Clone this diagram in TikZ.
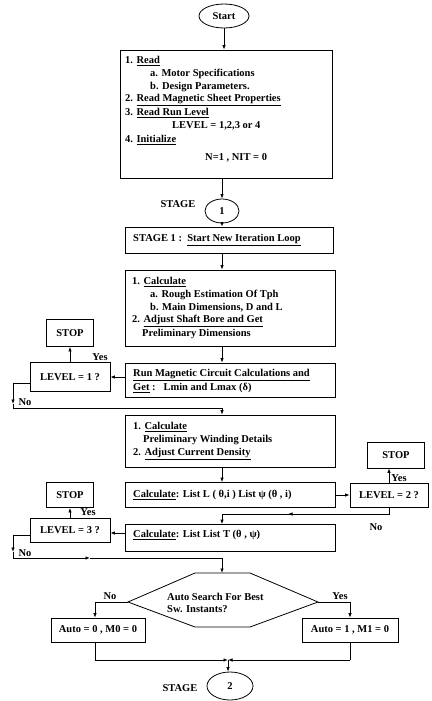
\documentclass[tikz,border=0pt]{standalone}
\usepackage{fontspec}
\setmainfont{Liberation Serif}
\usetikzlibrary{arrows.meta,shapes.geometric}
\begin{document}
\begin{tikzpicture}[x=1pt,y=-1pt,
  ln/.style={line width=0.8pt},
  arr/.style={ln,-{Latex[length=4.5pt,width=3.5pt]}},
  box/.style={draw,ln,inner sep=0pt},
  oval/.style={draw,ln,ellipse,inner sep=0pt},
  ft/.style={font=\fontsize{10.5}{12}\selectfont\bfseries},
  txt/.style={ft,anchor=west,inner sep=0pt},
  lbl/.style={ft,inner sep=0pt}]
\useasboundingbox (0,0) rectangle (431,701);

% start
\node[oval,minimum width=50,minimum height=24,ft] (start) at (224,16) {Start};

% box 1
\node[box,minimum width=212,minimum height=128] (b1) at (226,114) {};
\node[txt] (t1a) at (125,61) {1. \underline{Read}};
\node[txt] (t1b) at (150,74) {a. Motor Specifications};
\node[txt] (t1c) at (150,87) {b. Design Parameters.};
\node[txt] (t1d) at (125,100) {2. \underline{Read Magnetic Sheet Properties}};
\node[txt] (t1e) at (125,113) {3. \underline{Read Run Level}};
\node[txt] (t1f) at (172,126) {LEVEL = 1,2,3 or 4};
\node[txt] (t1g) at (125,140) {4. \underline{Initialize}};
\node[txt] (t1h) at (205,158) {N=1 , NIT = 0};

% stage 1 connector
\node[oval,minimum width=34,minimum height=24,ft] (s1) at (222,211) {1};
\node[lbl] (s1l) at (178,204) {STAGE};

% stage 1 box
\node[box,minimum width=208,minimum height=26] (b2) at (229,240) {};
\node[txt] (t2) at (133,240) {STAGE 1 :\ \ \underline{Start New Iteration Loop}};

% box 3
\node[box,minimum width=210,minimum height=76] (b3) at (230,308) {};
\node[txt] (t3a) at (132,282) {1. \underline{Calculate}};
\node[txt] (t3b) at (150,295) {a. Rough Estimation Of Tph};
\node[txt] (t3c) at (150,308) {b. Main Dimensions, D and L};
\node[txt] (t3d) at (132,321) {2. \underline{Adjust Shaft Bore and Get}};
\node[txt] (t3e) at (142,334) {Preliminary Dimensions};

% box 4
\node[box,minimum width=210,minimum height=34] (b4) at (230,380) {};
\node[txt] (t4a) at (133,375) {\underline{Run Magnetic Circuit Calculations and}};
\node[txt] (t4b) at (133,388) {\underline{Get} :\ \ \ Lmin and Lmax (δ)};

% level 1 / stop 1
\node[box,minimum width=80,minimum height=29,ft] (lv1) at (70,377) {LEVEL = 1 ?};
\node[box,minimum width=47,minimum height=27,ft] (st1) at (70,333) {STOP};

% box 5
\node[box,minimum width=210,minimum height=52] (b5) at (230,441) {};
\node[txt] (t5a) at (133,427) {1. \underline{Calculate}};
\node[txt] (t5b) at (143,440) {Preliminary Winding Details};
\node[txt] (t5c) at (133,454) {2. \underline{Adjust Current Density}};

% box 6
\node[box,minimum width=210,minimum height=25] (b6) at (230,495) {};
\node[txt] (t6) at (133,495) {\underline{Calculate}: List L ( θ,i ) List ψ (θ , i)};

% level 2 / stop 2
\node[box,minimum width=78,minimum height=24,ft] (lv2) at (389,495) {LEVEL = 2 ?};
\node[box,minimum width=57,minimum height=26,ft] (st2) at (396,455) {STOP};

% box 7
\node[box,minimum width=210,minimum height=27] (b7) at (230,538) {};
\node[txt] (t7) at (133,535) {\underline{Calculate}: List List T (θ , ψ)};

% level 3 / stop 3
\node[box,minimum width=80,minimum height=24,ft] (lv3) at (70,530) {LEVEL = 3 ?};
\node[box,minimum width=47,minimum height=25,ft] (st3) at (70,495) {STOP};

% hexagon decision
\coordinate (h1) at (195,573);
\coordinate (h2) at (250,573);
\coordinate (h3) at (318,602);
\coordinate (h4) at (250,627);
\coordinate (h5) at (195,627);
\coordinate (h6) at (128,602);
\draw[ln] (h1) -- (h2) -- (h3) -- (h4) -- (h5) -- (h6) -- cycle;
\node[txt] (th1) at (167,597) {Auto Search For Best};
\node[txt] (th2) at (167,609) {Sw. Instants?};

% auto boxes
\node[box,minimum width=94,minimum height=24,ft] (a0) at (98,630) {Auto = 0 , M0 = 0};
\node[box,minimum width=96,minimum height=24,ft] (a1) at (350,630) {Auto = 1 , M1 = 0};

% stage 2
\node[oval,minimum width=46,minimum height=28,ft] (s2) at (230,686) {2};
\node[lbl] (s2l) at (180,688) {STAGE};

% main column connectors
\draw[arr] (start) -- (start |- b1.north);
\draw[arr] (b1.south -| s1) -- (s1);
\draw[arr] (s1) -- (s1 |- b2.north);
\draw[arr] (b2.south -| 222,0) -- (b3.north -| 222,0);
\draw[arr] (b3.south -| 222,0) -- (b4.north -| 222,0);

% level 1 loop
\draw[arr] (b4.west |- lv1) -- (lv1.east);
\draw[arr] (lv1.north) -- (st1.south);
\node[lbl] (y1) at (100,357) {Yes};
\coordinate (n1a) at (13,383);
\coordinate (n1b) at (13,404);
\coordinate (n1c) at (13,408);
\coordinate (n1d) at (222,408);
\draw[arr] (lv1.west |- n1a) -- (n1a) -- (n1b);
\draw[ln] (n1b) -- (n1c) -- (n1d);
\draw[arr] (n1d) -- (b5.north -| n1d);
\node[lbl] (no1) at (25,402) {No};

% box5 -> box6
\draw[arr] (b5.south -| 222,0) -- (b6.north -| 222,0);

% level 2 loop
\draw[arr] (b6.east) -- (lv2.west);
\draw[arr] (lv2.north -| 389,0) -- (st2.south -| 389,0);
\node[lbl] (y2) at (399,478) {Yes};
\coordinate (n2a) at (389,514);
\coordinate (n2m) at (288,514);
\coordinate (n2b) at (222,514);
\draw[ln] (lv2.south) -- (n2a) -- (n2m);
\draw[arr] (n2a) -- (n2m);
\draw[ln] (n2m) -- (n2b);
\draw[arr] (n2b) -- (b7.north -| n2b);
\node[lbl] (no2) at (376,527) {No};

% level 3 loop
\draw[arr] (b7.west |- 0,533) -- (lv3.east |- 0,533);
\draw[arr] (lv3.north) -- (st3.south);
\node[lbl] (y3) at (88,512) {Yes};
\coordinate (n3a) at (13,535);
\coordinate (n3b) at (13,552);
\coordinate (n3c) at (13,558);
\coordinate (n3m) at (90,558);
\coordinate (n3d) at (222,558);
\draw[arr] (lv3.west |- n3a) -- (n3a) -- (n3b);
\draw[ln] (n3b) -- (n3c);
\draw[arr] (n3c) -- (n3m);
\draw[ln] (n3m) -- (n3d);
\draw[arr] (n3d) -- (h1 -| n3d);
\node[lbl] (no3) at (25,553) {No};

% decision branches
\coordinate (dl) at (95,602);
\coordinate (dr) at (350,602);
\draw[ln] (h6) -- (dl);
\draw[arr] (dl) -- (a0.north -| dl);
\draw[ln] (h3) -- (dr);
\draw[arr] (dr) -- (a1.north);
\node[lbl] (no4) at (110,596) {No};
\node[lbl] (y4) at (340,596) {Yes};

% merge
\coordinate (ml) at (95,660);
\coordinate (mr) at (350,660);
\coordinate (mj) at (228,660);
\draw[ln] (a0.south -| ml) -- (ml);
\draw[arr] (ml) -- (mj);
\draw[ln] (a1.south) -- (mr);
\draw[arr] (mr) -- (mj);
\draw[arr] (mj) -- (mj |- s2.north);
\end{tikzpicture}
\end{document}
